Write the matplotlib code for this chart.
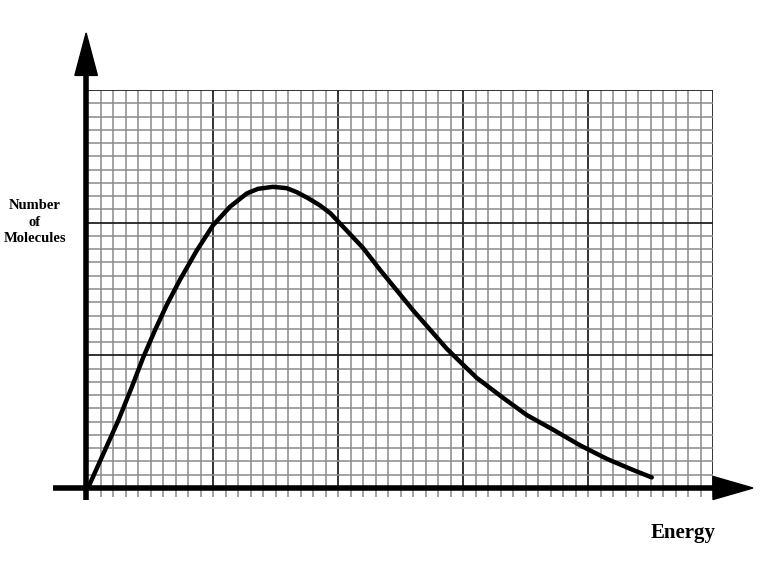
import matplotlib
matplotlib.use('Agg')
import matplotlib.pyplot as plt
from matplotlib.patches import Polygon

# energy distribution curve (50 x 30 small squares)
energy = [0, 1.36, 2.43, 3.5, 4.4, 5.36, 6.3, 7.36, 8.7, 10.0, 11.36, 12.7,
          13.6, 14.8, 15.9, 16.7, 17.6, 18.56, 19.4, 20.7, 22.0, 23.4, 24.7,
          26.0, 27.4, 28.7, 30.0, 31.1, 33.2, 35.1, 37.2, 39.4, 41.5, 43.6, 45.1]
molecules = [0, 2.86, 5.1, 7.6, 9.8, 11.9, 13.8, 15.7, 17.9, 19.8, 21.2, 22.2,
             22.55, 22.7, 22.6, 22.3, 21.85, 21.3, 20.7, 19.4, 18.1, 16.4, 14.9,
             13.4, 11.9, 10.5, 9.3, 8.3, 6.8, 5.5, 4.4, 3.2, 2.2, 1.36, 0.8]

x_max = 50
y_max = 30

fig = plt.figure(figsize=(7.66, 5.67), dpi=100)
ax = fig.add_axes([88/766, (567-488)/567, 625/766, 398/567])
ax.set_xlim(0, x_max)
ax.set_ylim(0, y_max)

# graph paper
for i in range(1, x_max + 1):
    major = i % 10 == 0
    ax.axvline(i, color='#222222' if major else '#8a8a8a',
               lw=1.3 if major else 1.1, zorder=1)
for j in range(1, y_max + 1):
    major = j % 10 == 0
    ax.axhline(j, color='#222222' if major else '#8a8a8a',
               lw=1.3 if major else 1.1, zorder=1)

for s in ax.spines.values():
    s.set_visible(False)
ax.set_xticks(range(1, x_max + 1))
ax.set_xticklabels([])
ax.set_yticks([])
ax.tick_params(axis='x', direction='out', length=6.5, width=1.1, color='#8a8a8a')

# axes with arrows
ax.plot([-2.8, 50.2], [0, 0], color='black', lw=4, clip_on=False, zorder=3,
        solid_capstyle='butt')
ax.add_patch(Polygon([[50, 0.87], [53.2, 0], [50, -0.87]], closed=True,
                     color='black', clip_on=False, zorder=3))
ax.plot([-0.15, -0.15], [-0.9, 31.5], color='black', lw=4, clip_on=False,
        zorder=3, solid_capstyle='butt')
ax.add_patch(Polygon([[-1.05, 31.1], [-0.15, 34.3], [0.75, 31.1]], closed=True,
                     color='black', clip_on=False, zorder=3))

# the curve
ax.plot(energy, molecules, color='black', lw=3.2, zorder=4,
        solid_capstyle='round', solid_joinstyle='round')

fig.text(35/766, 1 - 222/567, 'Number\nof\nMolecules', ha='center', va='center',
         fontsize=10.5, fontweight='bold', family='Liberation Serif',
         linespacing=1.35)
fig.text(683/766, 1 - 533/567, 'Energy', ha='center', va='center',
         fontsize=15, fontweight='bold', family='Liberation Serif')

fig.savefig('out.png', dpi=100)
